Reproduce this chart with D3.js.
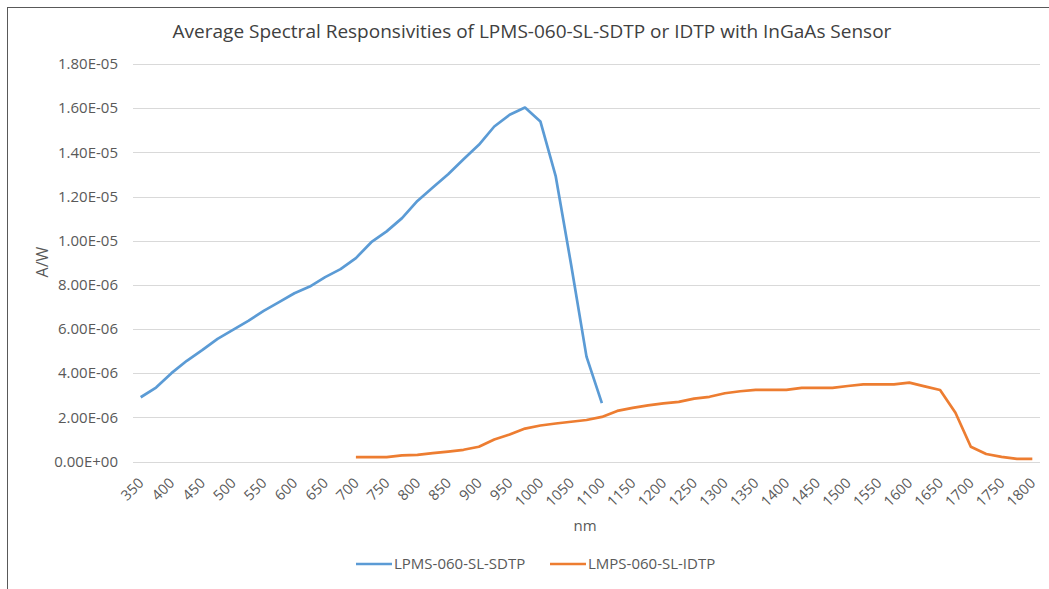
<!DOCTYPE html>
<html>
<head>
<meta charset="utf-8">
<script src="https://cdn.jsdelivr.net/npm/d3@7"></script>
<style>
  body { margin: 0; background: #fff; }
  svg text { font-family: "Open Sans", sans-serif; fill: #595959; }
</style>
</head>
<body>
<svg id="chart" width="1049" height="589"></svg>
<script>
// Wavelengths (nm), every 25 nm from 350 to 1800
var wavelengths = d3.range(350, 1801, 25);

// LPMS-060-SL-SDTP, 350..1100 nm (A/W)
var sdtpNm = d3.range(350, 1101, 25);
var sdtpValues = [
  2.91e-6, 3.35e-6, 4.00e-6, 4.56e-6, 5.04e-6, 5.55e-6, 5.96e-6, 6.37e-6,
  6.82e-6, 7.22e-6, 7.62e-6, 7.92e-6, 8.35e-6, 8.71e-6, 9.21e-6, 9.93e-6,
  1.042e-5, 1.102e-5, 1.180e-5, 1.241e-5, 1.301e-5, 1.369e-5, 1.434e-5,
  1.517e-5, 1.570e-5, 1.603e-5, 1.540e-5, 1.291e-5, 8.91e-6, 4.75e-6, 2.64e-6
];

// LMPS-060-SL-IDTP, 700..1800 nm (A/W)
var idtpNm = d3.range(700, 1801, 25);
var idtpValues = [
  0.20e-6, 0.20e-6, 0.20e-6, 0.28e-6, 0.30e-6, 0.38e-6, 0.45e-6, 0.53e-6,
  0.67e-6, 1.00e-6, 1.22e-6, 1.49e-6, 1.63e-6, 1.72e-6, 1.80e-6, 1.88e-6,
  2.02e-6, 2.29e-6, 2.43e-6, 2.54e-6, 2.63e-6, 2.70e-6, 2.85e-6, 2.93e-6,
  3.09e-6, 3.18e-6, 3.24e-6, 3.24e-6, 3.24e-6, 3.33e-6, 3.33e-6, 3.33e-6,
  3.42e-6, 3.49e-6, 3.49e-6, 3.49e-6, 3.57e-6, 3.40e-6, 3.24e-6, 2.21e-6,
  0.67e-6, 0.34e-6, 0.21e-6, 0.12e-6, 0.12e-6
];

var yTicks = d3.range(0, 1.81e-5, 2e-6);

var svg = d3.select('#chart');

// Outer chart frame
svg.append('rect')
  .attr('x', 7.5).attr('y', 7.5)
  .attr('width', 1100).attr('height', 700)
  .attr('fill', 'none').attr('stroke', '#595959').attr('stroke-width', 1);

var x = d3.scalePoint().domain(wavelengths).range([133, 1040]).padding(0.5);
var y = d3.scaleLinear().domain([0, 1.8e-5]).range([461.5, 64]);

// Excel-like scientific format, e.g. 1.80E-05
function sci(v) {
  if (v === 0) return '0.00E+00';
  var p = d3.format('.2e')(v).split('e');
  var ex = +p[1];
  return p[0] + 'E' + (ex < 0 ? '-' : '+') + String(Math.abs(ex)).padStart(2, '0');
}

// Gridlines
svg.append('g').selectAll('line').data(yTicks).enter().append('line')
  .attr('x1', 133).attr('x2', 1040)
  .attr('y1', function(d) { return Math.round(y(d)) + 0.5; })
  .attr('y2', function(d) { return Math.round(y(d)) + 0.5; })
  .attr('stroke', '#d9d9d9').attr('stroke-width', 1);

// Y tick labels
svg.append('g').selectAll('text').data(yTicks).enter().append('text')
  .attr('x', 118).attr('y', function(d) { return y(d); })
  .attr('dy', '0.35em').attr('text-anchor', 'end')
  .style('font-size', '15px')
  .text(sci);

// X tick labels (every 50 nm)
svg.append('g').selectAll('text')
  .data(wavelengths.filter(function(d) { return d % 50 === 0; }))
  .enter().append('text')
  .attr('transform', function(d) { return 'translate(' + (x(d) + 4) + ',484) rotate(-45)'; })
  .attr('text-anchor', 'end')
  .style('font-size', '14.5px')
  .text(function(d) { return d; });

// Lines
var line = d3.line()
  .x(function(d) { return x(d[0]); })
  .y(function(d) { return y(d[1]); });

svg.append('path')
  .datum(d3.zip(sdtpNm, sdtpValues))
  .attr('d', line).attr('fill', 'none')
  .attr('stroke', '#5b9bd5').attr('stroke-width', 2.7).attr('stroke-linejoin', 'round');

svg.append('path')
  .datum(d3.zip(idtpNm, idtpValues))
  .attr('d', line).attr('fill', 'none')
  .attr('stroke', '#ed7d31').attr('stroke-width', 2.7).attr('stroke-linejoin', 'round');

// Title and axis titles
svg.append('text')
  .attr('x', 532).attr('y', 38).attr('text-anchor', 'middle')
  .style('font-size', '19px').style('fill', '#404040')
  .text('Average Spectral Responsivities of LPMS-060-SL-SDTP or IDTP with InGaAs Sensor');

svg.append('text')
  .attr('transform', 'translate(48,262) rotate(-90)')
  .attr('text-anchor', 'middle')
  .style('font-size', '16px')
  .text('A/W');

svg.append('text')
  .attr('x', 585).attr('y', 531).attr('text-anchor', 'middle')
  .style('font-size', '15px')
  .text('nm');

// Legend
var legend = [
  { name: 'LPMS-060-SL-SDTP', color: '#5b9bd5', x: 356 },
  { name: 'LMPS-060-SL-IDTP', color: '#ed7d31', x: 550 }
];
var lg = svg.append('g').selectAll('g').data(legend).enter().append('g');
lg.append('line')
  .attr('x1', function(d) { return d.x; })
  .attr('x2', function(d) { return d.x + 36; })
  .attr('y1', 564).attr('y2', 564)
  .attr('stroke', function(d) { return d.color; }).attr('stroke-width', 2.7);
lg.append('text')
  .attr('x', function(d) { return d.x + 38; })
  .attr('y', 564).attr('dy', '0.35em')
  .style('font-size', '15px')
  .text(function(d) { return d.name; });
</script>
</body>
</html>
